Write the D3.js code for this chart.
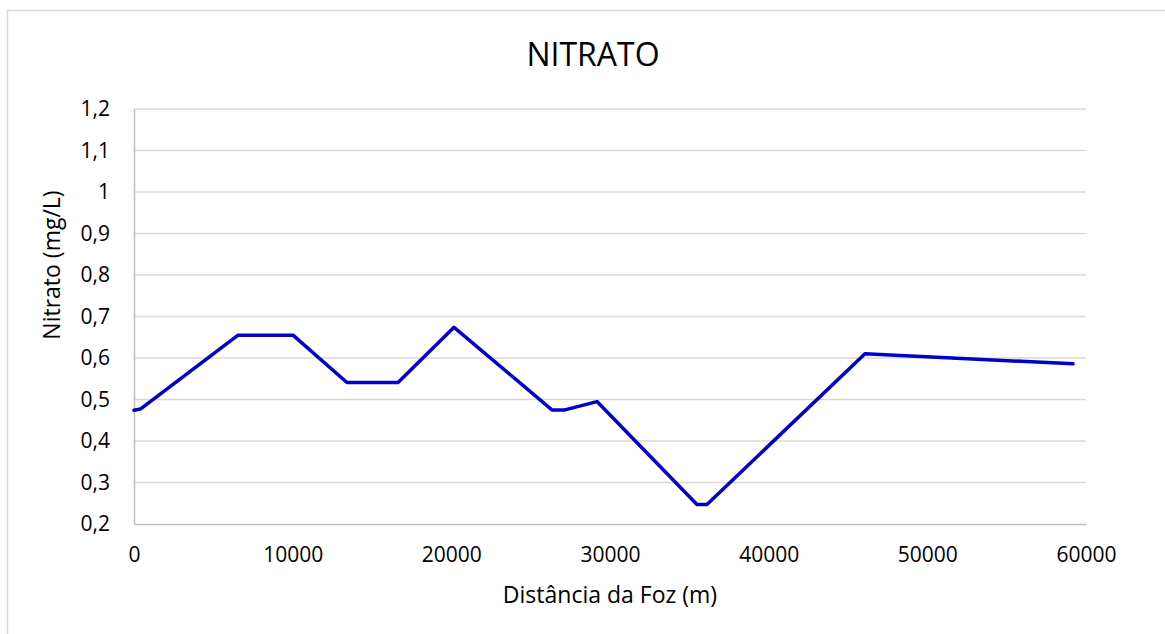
<!DOCTYPE html>
<html>
<head>
<meta charset="utf-8">
<script src="https://cdn.jsdelivr.net/npm/d3@7"></script>
<style>
  html, body { margin: 0; padding: 0; background: #ffffff; }
  svg { display: block; }
  text { font-family: "Open Sans", "Liberation Sans", sans-serif; fill: #000; }
</style>
</head>
<body>
<svg id="chart" width="1165" height="634"></svg>
<script>
// ---- data ----
const distances = [0, 400, 6560, 10020, 13420, 16640, 20170, 26340, 27160, 29180, 35480, 36110, 46070, 59180];
const nitrate   = [0.474, 0.477, 0.655, 0.655, 0.541, 0.541, 0.674, 0.475, 0.475, 0.495, 0.247, 0.247, 0.610, 0.586];
const xTicks = [0, 10000, 20000, 30000, 40000, 50000, 60000];
const yTicks = [0.2, 0.3, 0.4, 0.5, 0.6, 0.7, 0.8, 0.9, 1.0, 1.1, 1.2];
const titleText = "NITRATO";
const xTitle = "Distância da Foz (m)";
const yTitle = "Nitrato (mg/L)";

const svg = d3.select("#chart");
const W = 1165, H = 634;
const plot = { left: 134, right: 1086, top: 109, bottom: 524 };

// outer chart border
svg.append("rect")
  .attr("x", 7.5).attr("y", 10.5)
  .attr("width", W + 20).attr("height", H + 20)
  .attr("fill", "#fff").attr("stroke", "#d9d9d9").attr("stroke-width", 1.5);

const x = d3.scaleLinear().domain([0, 60000]).range([plot.left, plot.right]);
const y = d3.scaleLinear().domain([0.2, 1.2]).range([plot.bottom, plot.top]);

const fmtY = v => d3.format(".1f")(v).replace(".", ",").replace(",0", "");

// gridlines
svg.append("g")
  .selectAll("line")
  .data(yTicks.filter(v => v > 0.2))
  .join("line")
  .attr("x1", plot.left).attr("x2", plot.right)
  .attr("y1", d => y(d)).attr("y2", d => y(d))
  .attr("stroke", "#d9d9d9").attr("stroke-width", 1.5);

// y axis
const yAxis = svg.append("g")
  .attr("transform", `translate(${plot.left},0)`)
  .call(d3.axisLeft(y).tickValues(yTicks).tickFormat(fmtY).tickSize(0).tickPadding(24));
yAxis.select(".domain").attr("stroke", "#bfbfbf").attr("stroke-width", 1.5);
yAxis.selectAll("text").attr("font-size", 21).style("font-family", "'Open Sans', sans-serif").attr("fill", "#000");

// x axis
const xAxis = svg.append("g")
  .attr("transform", `translate(0,${plot.bottom})`)
  .call(d3.axisBottom(x).tickValues(xTicks).tickFormat(d3.format("d")).tickSize(0).tickPadding(23));
xAxis.select(".domain").attr("stroke", "#bfbfbf").attr("stroke-width", 1.5);
xAxis.selectAll("text").attr("font-size", 21).style("font-family", "'Open Sans', sans-serif").attr("fill", "#000");

// line
const data = distances.map((d, i) => ({ d, v: nitrate[i] }));
svg.append("path")
  .datum(data)
  .attr("fill", "none")
  .attr("stroke", "#0000c8")
  .attr("stroke-width", 3.5)
  .attr("stroke-linejoin", "round")
  .attr("stroke-linecap", "round")
  .attr("d", d3.line().x(p => x(p.d)).y(p => y(p.v)));

// title
svg.append("text")
  .attr("x", 593)
  .attr("y", 66)
  .attr("text-anchor", "middle")
  .attr("font-size", 32)
  .text(titleText);

// x axis title
svg.append("text")
  .attr("x", (plot.left + plot.right) / 2)
  .attr("y", 603)
  .attr("text-anchor", "middle")
  .attr("font-size", 23)
  .text(xTitle);

// y axis title
svg.append("text")
  .attr("transform", `translate(60,265) rotate(-90)`)
  .attr("text-anchor", "middle")
  .attr("font-size", 23)
  .text(yTitle);
</script>
</body>
</html>
